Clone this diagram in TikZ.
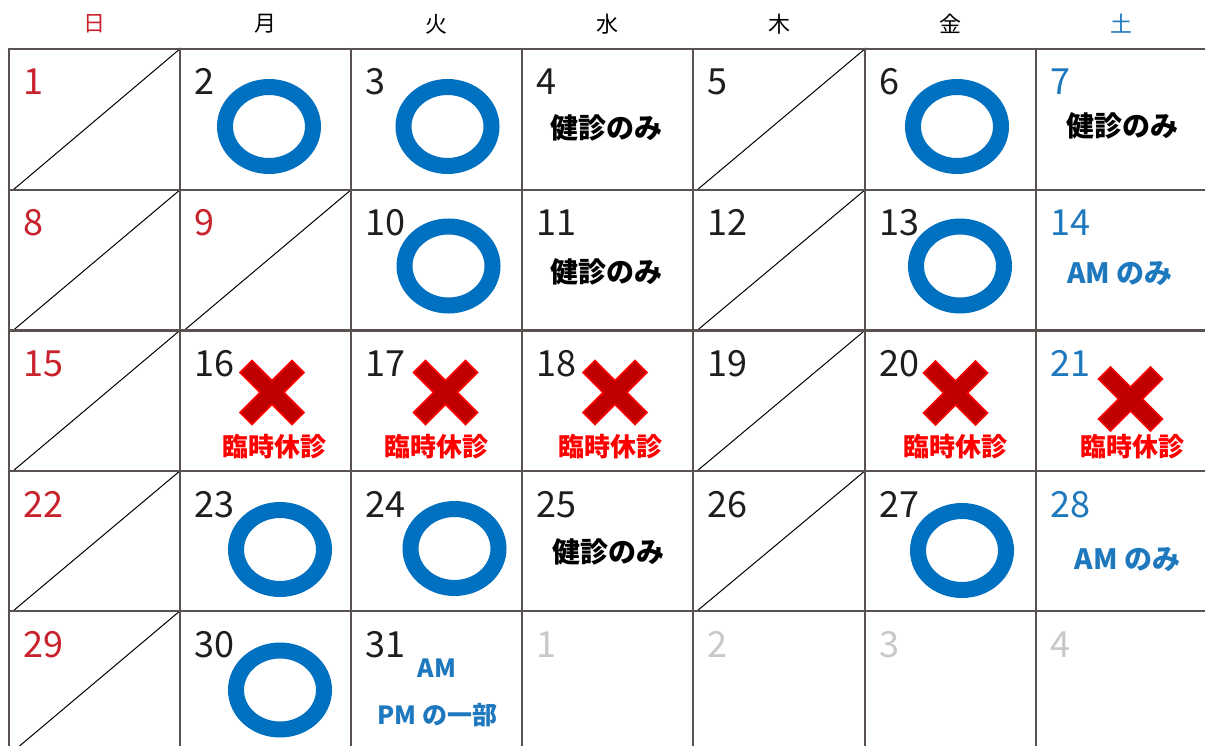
\documentclass[tikz,border=0pt]{standalone}
\usepackage{fontspec}
\setmainfont{Noto Sans CJK JP}
\definecolor{sunred}{RGB}{200,35,45}
\definecolor{satblue}{RGB}{30,120,190}
\definecolor{marublue}{RGB}{0,112,192}
\definecolor{nextgray}{RGB}{200,200,200}
\definecolor{gridc}{RGB}{90,82,80}
\definecolor{numblack}{RGB}{30,30,30}
\definecolor{batsufill}{RGB}{192,0,0}
\definecolor{holred}{RGB}{255,0,0}
\tikzset{
  gridline/.style={draw=gridc, line width=2.4pt},
  diagline/.style={draw=black, line width=1pt},
  daynum/.style={anchor=base west, inner sep=0pt, font=\fontsize{36}{36}\selectfont, text=numblack},
  headtxt/.style={inner sep=0pt, font=\fontsize{22}{22}\selectfont, text=black},
  kenshin/.style={inner sep=0pt, font=\fontsize{28}{28}\selectfont\bfseries, text=black},
  amtxt/.style={inner sep=0pt, font=\fontsize{28}{28}\selectfont\bfseries, text=satblue},
  amsmall/.style={inner sep=0pt, font=\fontsize{25}{25}\selectfont\bfseries, text=satblue},
  holtxt/.style={inner sep=0pt, font=\fontsize{26}{26}\selectfont\bfseries, text=holred},
  maru/.pic={\draw[draw=marublue, line width=16pt] (0,0) ellipse [x radius=44, y radius=39.5];},
  batsu/.pic={\draw[draw=holred, fill=batsufill, line width=1.5pt, line join=miter]
    (-32,-20) -- (-20,-32) -- (0,-12) -- (20,-32) -- (32,-20) -- (12,0) -- (32,20) -- (20,32)
    -- (0,12) -- (-20,32) -- (-32,20) -- (-12,0) -- cycle;}
}
\begin{document}
\begin{tikzpicture}[x=1pt,y=-1pt]
\useasboundingbox (0,0) rectangle (1205,746);
\clip (0,0) rectangle (1205,746);
\fill[white] (0,0) rectangle (1205,746);

% header
\node[headtxt, text=sunred] (h0) at (94.5,24) {日};
\node[headtxt] (h1) at (265.5,24) {月};
\node[headtxt] (h2) at (436.5,24) {火};
\node[headtxt] (h3) at (607.5,24) {水};
\node[headtxt] (h4) at (779,24) {木};
\node[headtxt] (h5) at (950.5,24) {金};
\node[headtxt, text=satblue] (h6) at (1121,24) {土};

% diagonals
\foreach \xa/\ya/\xb/\yb in {13/190/181/48, 697/190/866/48,
  13/330.5/181/189, 184/330.5/352/189, 697/330.5/866/189,
  13/471/181/329.5, 697/471/866/329.5,
  13/611/181/470, 697/611/866/470,
  13/751.5/181/610}
  \draw[diagline] (\xa,\ya) -- (\xb,\yb);

% grid
\foreach \x in {9,180,351,522,693,865,1036}
  \draw[gridline] (\x,48) -- (\x,760);
\foreach \y in {49,190,330.5,471,611}
  \draw[gridline] (7.8,\y) -- (1215,\y);

% day numbers row 1
\node[daynum, text=sunred] (d1) at (23,95) {1};
\node[daynum] (d2) at (194,95) {2};
\node[daynum] (d3) at (365,95) {3};
\node[daynum] (d4) at (536,95) {4};
\node[daynum] (d5) at (707,95) {5};
\node[daynum] (d6) at (879,95) {6};
\node[daynum, text=satblue] (d7) at (1050,95) {7};
% row 2
\node[daynum, text=sunred] (d8) at (23,236) {8};
\node[daynum, text=sunred] (d9) at (194,236) {9};
\node[daynum] (d10) at (365,236) {10};
\node[daynum] (d11) at (536,236) {11};
\node[daynum] (d12) at (707,236) {12};
\node[daynum] (d13) at (879,236) {13};
\node[daynum, text=satblue] (d14) at (1050,236) {14};
% row 3
\node[daynum, text=sunred] (d15) at (23,376.5) {15};
\node[daynum] (d16) at (194,376.5) {16};
\node[daynum] (d17) at (365,376.5) {17};
\node[daynum] (d18) at (536,376.5) {18};
\node[daynum] (d19) at (707,376.5) {19};
\node[daynum] (d20) at (879,376.5) {20};
\node[daynum, text=satblue] (d21) at (1050,376.5) {21};
% row 4
\node[daynum, text=sunred] (d22) at (23,517) {22};
\node[daynum] (d23) at (194,517) {23};
\node[daynum] (d24) at (365,517) {24};
\node[daynum] (d25) at (536,517) {25};
\node[daynum] (d26) at (707,517) {26};
\node[daynum] (d27) at (879,517) {27};
\node[daynum, text=satblue] (d28) at (1050,517) {28};
% row 5
\node[daynum, text=sunred] (d29) at (23,657) {29};
\node[daynum] (d30) at (194,657) {30};
\node[daynum] (d31) at (365,657) {31};
\node[daynum, text=nextgray] (n1) at (536,657) {1};
\node[daynum, text=nextgray] (n2) at (707,657) {2};
\node[daynum, text=nextgray] (n3) at (879,657) {3};
\node[daynum, text=nextgray] (n4) at (1050,657) {4};

% circles
\pic at (269,126.5) {maru};
\pic at (447.5,126.5) {maru};
\pic at (957,126.5) {maru};
\pic at (448.5,266) {maru};
\pic at (960,266) {maru};
\pic at (280,549.5) {maru};
\pic at (454.5,548.5) {maru};
\pic at (962,550.5) {maru};
\pic at (280,690) {maru};

% crosses
\pic at (272,392.5) {batsu};
\pic at (445.5,392.5) {batsu};
\pic at (615,392.5) {batsu};
\pic at (955.5,393) {batsu};
\pic at (1130.5,399) {batsu};

% texts
\node[kenshin] (k4) at (606,127.5) {健診のみ};
\node[kenshin] (k7) at (1122,126) {健診のみ};
\node[kenshin] (k11) at (606,272) {健診のみ};
\node[kenshin] (k25) at (608.5,551.5) {健診のみ};

\node[amtxt] (a14) at (1120,274) {AM のみ};
\node[amtxt] (a28) at (1127.5,559.5) {AM のみ};
\node[amsmall] (a31) at (437,668) {AM};
\node[amsmall] (p31) at (437.5,715) {PM の一部};

\node[holtxt] (t16) at (274.5,447) {臨時休診};
\node[holtxt] (t17) at (436,447) {臨時休診};
\node[holtxt] (t18) at (610.5,447) {臨時休診};
\node[holtxt] (t20) at (955.5,447) {臨時休診};
\node[holtxt] (t21) at (1132.5,447) {臨時休診};
\end{tikzpicture}
\end{document}
